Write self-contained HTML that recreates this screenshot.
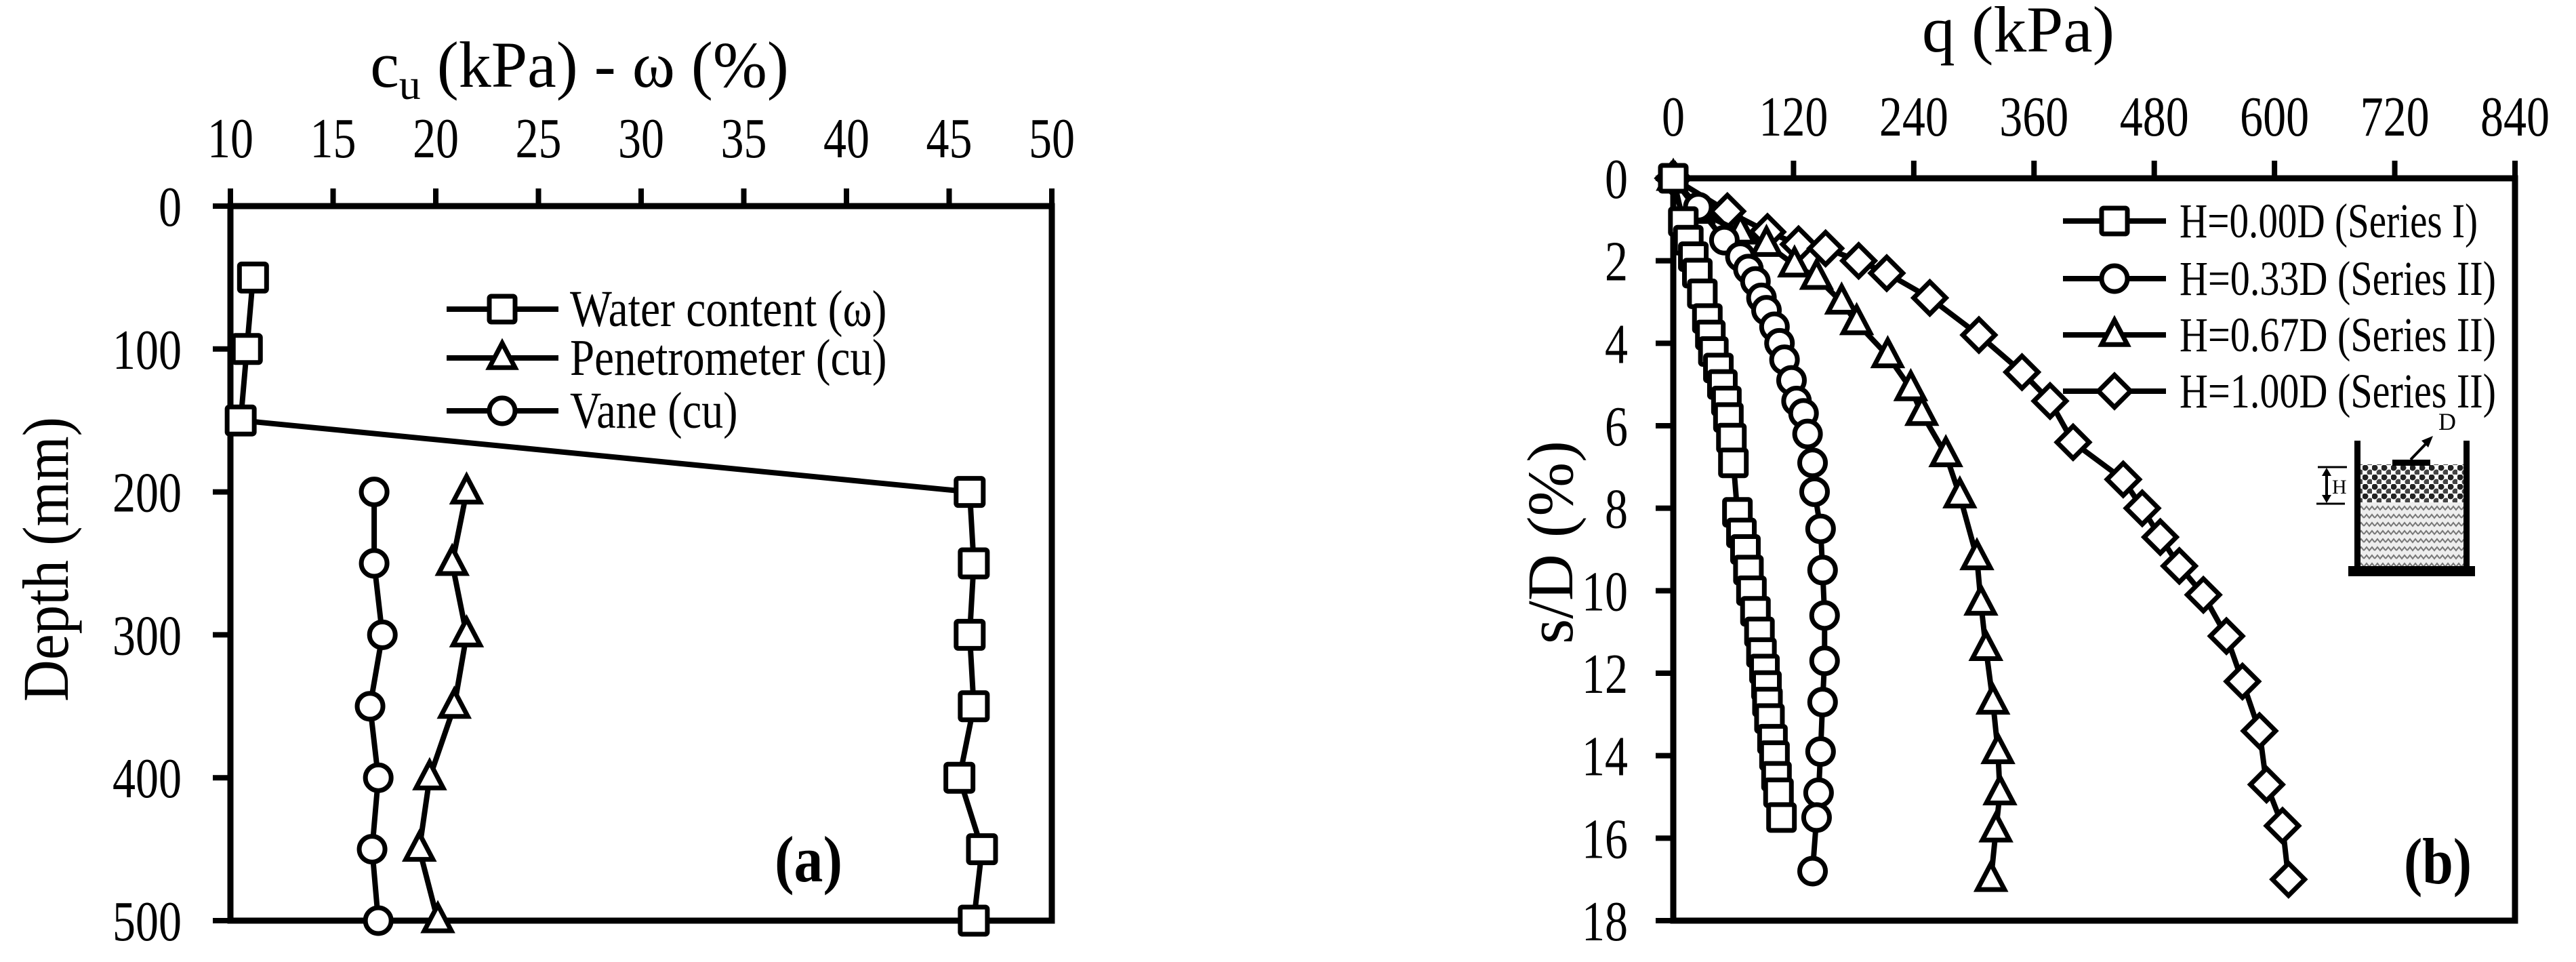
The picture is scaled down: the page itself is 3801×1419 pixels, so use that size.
<!DOCTYPE html>
<html><head><meta charset="utf-8"><style>
html,body{margin:0;padding:0;background:#fff;}
svg{display:block;}
text{font-family:"Liberation Serif","Times New Roman","DejaVu Serif",serif;fill:#000;}
</style></head><body>
<svg id="svg" xmlns="http://www.w3.org/2000/svg" width="3801" height="1419" viewBox="0 0 3801 1419" font-family="'Liberation Serif', 'DejaVu Serif', serif">
<defs>
<pattern id="dots" width="14" height="14" patternUnits="userSpaceOnUse"><rect width="14" height="14" fill="#fff"/><circle cx="4" cy="4" r="4.5" fill="#222"/><circle cx="11" cy="11" r="4.5" fill="#444"/></pattern>
<pattern id="zig" width="16" height="12" patternUnits="userSpaceOnUse"><rect width="16" height="12" fill="#eee"/><polyline points="0,8 4,3 8,8 12,3 16,8" fill="none" stroke="#777" stroke-width="2"/></pattern>
</defs>
<g id="chartA"></g>
<g id="chartB"></g>
<g id="inset">
<rect x="3480" y="685" width="159" height="56" fill="url(#dots)"/>
<rect x="3480" y="741" width="159" height="94" fill="url(#zig)"/>
<rect x="3474" y="650" width="9" height="190" fill="#000"/>
<rect x="3635" y="650" width="9" height="190" fill="#000"/>
<rect x="3465" y="835" width="187" height="15" fill="#000"/>
<rect x="3530" y="678" width="56" height="9" fill="#000"/>
<line x1="3557" y1="678" x2="3582" y2="652" stroke="#000" stroke-width="4"/>
<polygon points="3590,643 3573,650 3583,660" fill="#000"/>
<text x="3598" y="634" font-size="36">D</text>
<line x1="3420" y1="689" x2="3463" y2="689" stroke="#000" stroke-width="3"/>
<line x1="3418" y1="743" x2="3460" y2="743" stroke="#000" stroke-width="3"/>
<line x1="3433" y1="695" x2="3433" y2="737" stroke="#000" stroke-width="4"/>
<polygon points="3433,690 3426,702 3440,702" fill="#000"/>
<polygon points="3433,742 3426,730 3440,730" fill="#000"/>
<text x="3441" y="728" font-size="30">H</text>
</g>
</svg>
<script>
// ---- Chart (a) data ----
const depthA = [50,100,150,200,250,300,350,400,450,500];
const waterVals = [11.1,10.8,10.5,46.0,46.2,46.0,46.2,45.5,46.6,46.2];
const depthCu = [200,250,300,350,400,450,500];
const penVals = [21.5,20.8,21.5,20.9,19.7,19.2,20.1];
const vaneVals = [17.0,17.0,17.4,16.8,17.2,16.9,17.2];
const xTicksA = [10,15,20,25,30,35,40,45,50];
const yTicksA = [0,100,200,300,400,500];
// ---- Chart (b) data ----
const sqQ = [0,10,15,20,24,29,34,37,40,45,49,53,55,58,60,64,68,72,75,78,82,86,88,91,93,94,96,99,101,103,105,108];
const sqS = [0,1.05,1.5,1.9,2.3,2.8,3.4,3.8,4.2,4.6,5.0,5.4,5.8,6.3,6.9,8.1,8.6,9.0,9.5,10.0,10.5,11.0,11.5,11.9,12.3,12.7,13.1,13.6,14.0,14.5,14.9,15.5];
const ciQ = [0,25,51,67,75,82,88,93,101,106,111,118,123,130,134,139,141,147,149,151,151,149,147,145,143,139];
const ciS = [0,0.7,1.5,1.9,2.2,2.5,2.9,3.2,3.6,4.0,4.4,4.9,5.4,5.7,6.2,6.9,7.6,8.5,9.5,10.6,11.7,12.7,13.9,14.9,15.5,16.8];
const trQ = [0,25,67,93,121,143,168,183,214,237,248,272,286,303,307,312,319,324,326,322,317];
const trS = [0,0.8,1.3,1.6,2.1,2.4,3.0,3.5,4.3,5.1,5.7,6.7,7.7,9.2,10.3,11.4,12.7,13.9,14.9,15.8,17.0];
const diQ = [0,54,94,125,152,185,213,256,305,348,376,399,449,468,486,505,529,552,568,585,592,608,614];
const diS = [0,0.8,1.3,1.6,1.7,2.0,2.3,2.9,3.8,4.7,5.4,6.4,7.3,8.0,8.7,9.4,10.1,11.1,12.2,13.4,14.7,15.7,17.0];
const xTicksB = [0,120,240,360,480,600,720,840];
const yTicksB = [0,2,4,6,8,10,12,14,16,18];

const NS="http://www.w3.org/2000/svg";
const FONT="'Liberation Serif', 'Times New Roman', 'DejaVu Serif', serif";
function mk(parent,tag,attrs){const e=document.createElementNS(NS,tag);for(const k in attrs)e.setAttribute(k,attrs[k]);parent.appendChild(e);return e;}
function txt(parent,x,y,s,size,anchor,len,weight){
  const t=mk(parent,'text',{x:x,y:y,'font-size':size,'text-anchor':anchor||'middle','font-family':FONT});
  if(len){t.setAttribute('textLength',len);t.setAttribute('lengthAdjust','spacingAndGlyphs');}
  if(weight)t.setAttribute('font-weight',weight);
  t.textContent=s;return t;}
function marker(g,type,x,y,r){
  let m;
  if(type==='sq') m=mk(g,'rect',{x:x-r,y:y-r,width:2*r,height:2*r,rx:3});
  else if(type==='ci') m=mk(g,'circle',{cx:x,cy:y,r:r});
  else if(type==='tr') m=mk(g,'polygon',{points:`${x},${y-r*1.15} ${x-r},${y+r*0.75} ${x+r},${y+r*0.75}`});
  else m=mk(g,'polygon',{points:`${x},${y-r*1.25} ${x+r*1.25},${y} ${x},${y+r*1.25} ${x-r*1.25},${y}`});
  m.setAttribute('fill','#fff');m.setAttribute('stroke','#000');m.setAttribute('stroke-width',7);
  return m;}
function series(g,xs,ys,sx,sy,type,r,name){
  const sg=mk(g,'g',{});
  
  
  const pts=xs.map((v,i)=>sx(v)+','+sy(ys[i])).join(' ');
  const pl=mk(sg,'polyline',{points:pts,fill:'none',stroke:'#000','stroke-width':8,'stroke-linejoin':'round'});
  
  
  xs.forEach((v,i)=>{const m=marker(sg,type,sx(v),sy(ys[i]),r);
    
    });
}

// ===== Chart A =====
(function(){
const g=document.getElementById('chartA');
const X0=340,X1=1552,Y0=304,Y1=1358;
const sx=v=>X0+(v-10)/40*(X1-X0), sy=v=>Y0+v/500*(Y1-Y0);
const ax=mk(g,'g',{});


mk(ax,'rect',{x:X0,y:Y0,width:X1-X0,height:Y1-Y0,fill:'none',stroke:'#000','stroke-width':9});
xTicksA.forEach(t=>{mk(ax,'line',{x1:sx(t),y1:Y0,x2:sx(t),y2:Y0-26,stroke:'#000','stroke-width':8});
  const l=txt(ax,sx(t),232,String(t),84,'middle',68);
  
  });
yTicksA.forEach(t=>{mk(ax,'line',{x1:X0,y1:sy(t),x2:X0-26,y2:sy(t),stroke:'#000','stroke-width':8});
  const l=txt(ax,268,sy(t)+29,String(t),84,'end',String(t).length*34);
  
  });
const tt=mk(g,'text',{x:855,y:128,'font-size':96,'text-anchor':'middle','font-family':FONT});


tt.innerHTML='c<tspan font-size="64" dy="18">u</tspan><tspan dy="-18"> (kPa) - ω (%)</tspan>';
const yt=txt(g,0,0,'Depth (mm)',96,'middle',420);
yt.setAttribute('transform','translate(100,825) rotate(-90)');


series(g,waterVals,depthA,sx,sy,'sq',20,'series-water-content');
series(g,penVals,depthCu,sx,sy,'tr',20,'series-penetrometer');
series(g,vaneVals,depthCu,sx,sy,'ci',19,'series-vane');
const lg=mk(g,'g',{});


[['sq','Water content (ω)',456],['tr','Penetrometer (cu)',528],['ci','Vane (cu)',606]].forEach(([tp,lab,y])=>{
  const e=mk(lg,'g',{});
  
  
  mk(e,'line',{x1:659,y1:y,x2:824,y2:y,stroke:'#000','stroke-width':8});
  marker(e,tp,741,y,19);
  txt(e,841,y+25,lab,76,'start',lab.length*27.5);
});
const a=txt(g,1193,1300,'(a)',96,'middle',100,'bold');


})();

// ===== Chart B =====
(function(){
const g=document.getElementById('chartB');
const X0=2469,X1=3711,Y0=263,Y1=1358;
const sx=v=>X0+v/840*(X1-X0), sy=v=>Y0+v/18*(Y1-Y0);
const ax=mk(g,'g',{});


mk(ax,'rect',{x:X0,y:Y0,width:X1-X0,height:Y1-Y0,fill:'none',stroke:'#000','stroke-width':9});
xTicksB.forEach(t=>{mk(ax,'line',{x1:sx(t),y1:Y0,x2:sx(t),y2:Y0-26,stroke:'#000','stroke-width':8});
  const l=txt(ax,sx(t),200,String(t),84,'middle',String(t).length*34);
  
  });
yTicksB.forEach(t=>{mk(ax,'line',{x1:X0,y1:sy(t),x2:X0-26,y2:sy(t),stroke:'#000','stroke-width':8});
  const l=txt(ax,2402,sy(t)+29,String(t),84,'end',String(t).length*34);
  
  });
const tt=txt(g,2978,76,'q (kPa)',96,'middle',284);


const yt=txt(g,0,0,'s/D (%)',96,'middle',300);
yt.setAttribute('transform','translate(2320,800) rotate(-90)');


series(g,diQ,diS,sx,sy,'di',19,'series-h100');
series(g,trQ,trS,sx,sy,'tr',20,'series-h067');
series(g,ciQ,ciS,sx,sy,'ci',19,'series-h033');
series(g,sqQ,sqS,sx,sy,'sq',19,'series-h000');
const lg=mk(g,'g',{});


[['sq','H=0.00D (Series I)',326],['ci','H=0.33D (Series II)',411],['tr','H=0.67D (Series II)',494],['di','H=1.00D (Series II)',577]].forEach(([tp,lab,y])=>{
  const e=mk(lg,'g',{});
  
  
  mk(e,'line',{x1:3044,y1:y,x2:3196,y2:y,stroke:'#000','stroke-width':8});
  marker(e,tp,3120,y,19);
  txt(e,3216,y+24,lab,72,'start',lab==='H=0.00D (Series I)'?440:467);
});
const b=txt(g,3597,1303,'(b)',96,'middle',100,'bold');


})();
</script>
</body></html>
